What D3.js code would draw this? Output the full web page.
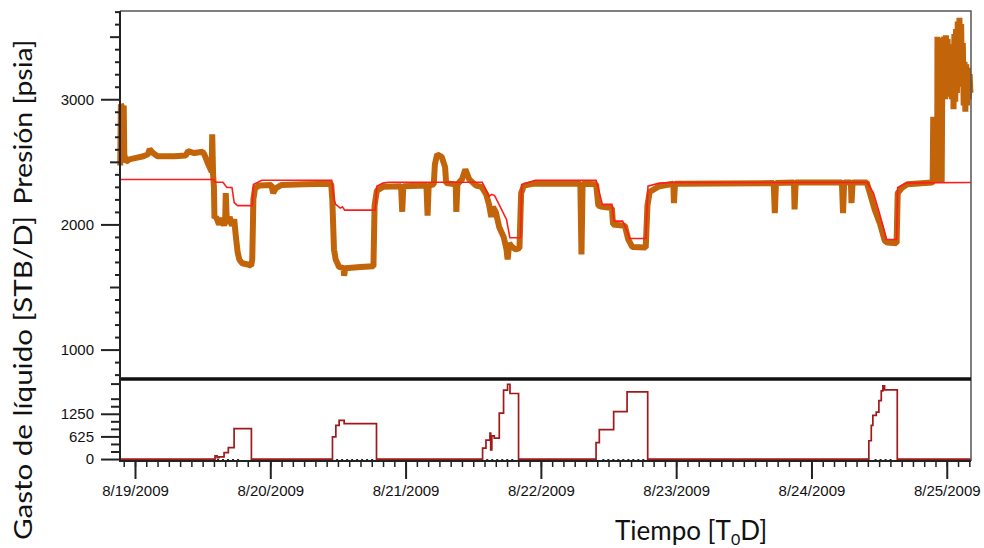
<!DOCTYPE html>
<html>
<head>
<meta charset="utf-8">
<script src="https://cdn.jsdelivr.net/npm/d3@7"></script>
<style>
  body { margin: 0; background: #fff; }
  .tick text { font-family: "Liberation Sans", Arial, sans-serif; font-size: 15px; fill: #111; }
  .ttl { font-family: Lato, "Open Sans", sans-serif; font-size: 25px; fill: #111; }
</style>
</head>
<body>
<div id="graph"></div>
<script>
// hours after 8/19/2009 00:00, measured pressure [psia]
var presHours = [-2.62, -2.5, -2.2, -2.0, -1.9, -1.6, -1.0, 0.0, 1.5, 2.3, 2.6, 3.2, 4.0, 7.0, 9.0, 9.4, 10.5, 12.0,
  12.3, 13.0, 13.6, 13.7, 13.85, 14.0, 14.1, 14.4, 14.9, 15.4, 15.8, 16.0, 16.1, 16.3, 16.8, 17.2, 17.6, 17.9, 18.2, 18.5,
  19.0, 20.0, 20.6, 20.8, 21.0, 21.3, 22.0, 24.2, 24.5, 25.0, 26.0, 30.0, 34.8,
  35.0, 35.3, 35.6, 36.2, 37.0, 37.1, 37.3, 40.0, 42.3, 42.5, 42.9, 44.0, 47.2, 47.4, 47.6, 51.7, 51.9, 52.1, 53.0, 53.2,
  53.6, 54.4, 55.0, 55.2, 56.9, 57.0, 57.2, 58.0, 58.6, 59.3, 60.5, 61.5, 62.3, 62.8, 63.2, 63.5, 64.0, 64.6, 65.4, 65.9,
  66.1, 66.4, 66.9, 67.5, 68.2, 68.5, 69.0, 70.5, 79.0, 79.2, 79.4, 81.8, 82.2, 82.9, 84.6, 84.8, 86.9, 87.5, 88.2, 90.6,
  90.9, 91.3, 93.0, 95.5, 95.6, 95.8, 113.3, 113.5, 113.7, 116.9, 117.0, 117.2, 125.4, 125.6, 125.8, 127.0, 127.1, 127.3,
  129.8, 130.5, 131.2, 132.2, 133.0, 133.4, 135.1, 135.3, 136.0, 137.0, 141.4,
  141.5, 141.6, 141.75, 141.9, 142.05, 142.2, 142.3,
  142.35, 142.5, 142.65, 142.8, 142.95, 143.1, 143.25, 143.4, 143.55, 143.7, 143.85, 144.0, 144.15, 144.3, 144.45, 144.6,
  144.75, 144.9, 145.05, 145.2, 145.35, 145.5, 145.65, 145.8, 145.95, 146.1, 146.25, 146.4, 146.55, 146.7, 146.85, 147.0,
  147.15, 147.3, 147.45, 147.6, 147.75, 147.9, 148.05, 148.2]
var presValues = [2470, 2960, 2930, 2950, 2560, 2500, 2520, 2530, 2545, 2560, 2600, 2570, 2545, 2545, 2550, 2585, 2570, 2580,
  2560, 2480, 2420, 2720, 2400, 2300, 2050, 2060, 2000, 2050, 1990, 2030, 2250, 2010, 2060, 1990, 2040, 1900, 1780, 1720,
  1690, 1680, 1670, 1720, 2200, 2290, 2310, 2315, 2250, 2290, 2315, 2320, 2325,
  2200, 1800, 1720, 1660, 1650, 1590, 1650, 1660, 1665, 2150, 2270, 2300, 2305, 2100, 2305, 2310, 2070, 2310, 2320, 2480,
  2560, 2540, 2460, 2330, 2320, 2100, 2320, 2360, 2440, 2360, 2310, 2300, 2240, 2160, 2060, 2140, 2100, 1980, 1900, 1800,
  1720, 1850, 1820, 1800, 1810, 2250, 2310, 2325, 2325, 1760, 2325, 2320, 2150, 2140, 2130, 2000, 1990, 1880, 1820, 1815,
  2150, 2260, 2305, 2325, 2170, 2325, 2330, 2090, 2330, 2335, 2120, 2335, 2335, 2090, 2335, 2335, 2170, 2335,
  2335, 2230, 2120, 2000, 1870, 1855, 1850, 2250, 2290, 2320, 2335,
  2340, 2860, 2340, 2860, 2340, 2860, 2340,
  3500, 2340, 3470, 2340, 3480, 2340, 3490, 3000, 3500, 3000, 3510, 3020, 3480, 3050, 3400, 3080,
  3420, 3000, 3440, 2920, 3520, 2980, 3560, 3050, 3620, 3100, 3650, 3150, 3600, 3100, 3450, 2950,
  3300, 2900, 3280, 2950, 3250, 3000, 3200, 3050]

// simulated pressure (red)
var simHours = [-2.66, 14.0, 14.2, 15.6, 16.3, 17.2, 17.6, 18.2, 20.8, 21.0, 22.5, 34.9, 35.3, 35.6, 36.4, 36.8, 37.2, 42.6,
  42.9, 44.0, 45.0, 61.6, 62.8, 63.3, 63.8, 65.9, 66.5, 68.4, 68.6, 70.5, 71.0, 81.8, 82.4, 82.9, 84.6, 85.0, 86.5, 87.3,
  87.7, 90.6, 91.0, 93.0, 95.0, 129.9, 131.0, 132.0, 133.3, 135.1, 135.3, 136.9, 148.3]
var simValues = [2359, 2359, 2337, 2337, 2295, 2295, 2175, 2150, 2150, 2319, 2353, 2353, 2200, 2160, 2130, 2140, 2114, 2114,
  2305, 2330, 2337, 2337, 2225, 2240, 2230, 2040, 1894, 1894, 2319, 2345, 2353, 2353, 2250, 2160, 2160, 2026, 2026, 1950,
  1888, 1888, 2305, 2330, 2335, 2335, 2250, 2100, 1880, 1880, 2295, 2332, 2335]

// liquid rate [STB/D], step after
var rateHours = [-2.66, 14.2, 14.56, 14.9, 15.8, 16.56, 17.58, 20.65, 35.03, 35.63, 36.21, 37.1, 42.84,
  61.66, 62.26, 62.97, 63.1, 63.3, 63.73, 64.62, 65.38, 66.09, 66.52, 68.04,
  81.79, 82.37, 84.91, 87.29, 90.95,
  130.18, 130.61, 130.89, 131.49, 131.96, 132.38, 132.67, 132.97, 135.22, 148.3]
var rateValues = [0, 90, 40, 60, 180, 315, 840, 0, 614, 932, 1068, 978, 0,
  299, 524, 715, 250, 640, 580, 1266, 1902, 2065, 1810, 0,
  451, 815, 1312, 1856, 0,
  505, 932, 1204, 1293, 1611, 1883, 2019, 1910, 0, 0]

// second rate series, flat at zero while the well flows (dotted)
var zeroStart = [14.56, 35.68, 62.31, 82.9, 131.19]
var zeroEnd = [18.46, 42.43, 67.64, 90.36, 134.74]

var presTicks = [1000, 2000, 3000]
var rateTicks = [0, 625, 1250]

function draw() {
  var base = new Date(2009, 7, 19)
  function hr(h) { return new Date(base.getTime() + h * 3600e3) }

  var width = 984, height = 548
  var m = { left: 120, right: 971, top: 11, mid: 379, bottom: 461 }

  var svg = d3.select("#graph")
    .append("svg")
    .attr("width", width)
    .attr("height", height)

  var x = d3.scaleTime()
    .domain([hr(-2.66), hr(148.3)])
    .range([m.left, m.right])

  var yP = d3.scaleLinear()
    .domain([781, 3705])
    .range([m.mid - 2, m.top])

  var yQ = d3.scaleLinear()
    .domain([-54, 2155])
    .range([m.bottom, m.mid + 2])

  // top panel: measured pressure, thick orange
  var presLine = d3.line()
    .x(function (d, i) { return x(hr(presHours[i])) })
    .y(function (d) { return yP(d) })
  svg.append("path")
    .attr("d", presLine(presValues))
    .attr("fill", "none")
    .attr("stroke", "#c2640a")
    .attr("stroke-width", 6)
    .attr("stroke-linejoin", "bevel")

  var simLine = d3.line()
    .x(function (d, i) { return x(hr(simHours[i])) })
    .y(function (d) { return yP(d) })
  svg.append("path")
    .attr("d", simLine(simValues))
    .attr("fill", "none")
    .attr("stroke", "#ff1c1c")
    .attr("stroke-width", 1.6)

  // bottom panel: rate
  zeroStart.forEach(function (s, i) {
    svg.append("line")
      .attr("x1", x(hr(s))).attr("x2", x(hr(zeroEnd[i])))
      .attr("y1", yQ(0) + 0.5).attr("y2", yQ(0) + 0.5)
      .attr("stroke", "#222")
      .attr("stroke-width", 1.2)
      .attr("stroke-dasharray", "2,3")
  })

  var rateLine = d3.line()
    .curve(d3.curveStepAfter)
    .x(function (d, i) { return x(hr(rateHours[i])) })
    .y(function (d) { return yQ(d) })
  svg.append("path")
    .attr("d", rateLine(rateValues))
    .attr("fill", "none")
    .attr("stroke", "#a11a1a")
    .attr("stroke-width", 1.7)

  // frame
  svg.append("path")
    .attr("d", "M" + m.left + "," + m.top + "H" + m.right + "V" + m.bottom)
    .attr("fill", "none")
    .attr("stroke", "#555")
    .attr("stroke-width", 1.5)
  svg.append("line")
    .attr("x1", m.left).attr("x2", m.right).attr("y1", m.mid).attr("y2", m.mid)
    .attr("stroke", "#111").attr("stroke-width", 3.5)
  svg.append("line")
    .attr("x1", m.left).attr("x2", m.left).attr("y1", m.top).attr("y2", m.bottom + 1)
    .attr("stroke", "#222").attr("stroke-width", 2)
  svg.append("line")
    .attr("x1", m.left).attr("x2", m.right).attr("y1", m.bottom).attr("y2", m.bottom)
    .attr("stroke", "#222").attr("stroke-width", 2)

  // y axes, ticks outside
  function axisY(scale, values, size, labels) {
    var g = svg.append("g")
      .attr("transform", "translate(" + (m.left - 1) + ",0)")
      .call(d3.axisLeft(scale).tickValues(values).tickSize(size).tickPadding(7)
        .tickFormat(labels ? d3.format("d") : ""))
    g.select(".domain").remove()
    g.selectAll("line").attr("stroke", "#222").attr("stroke-width", 2)
  }
  axisY(yP, d3.range(800, 3701, 100).filter(function (v) { return v % 500 != 0 }), 4, false)
  axisY(yP, [1500, 2500, 3500], 9, false)
  axisY(yP, presTicks, 18, true)
  axisY(yQ, d3.range(1, 11).map(function (k) { return k * 625 / 3 }).filter(function (v) { return v % 625 > 1 && v < 2150 }), 8, false)
  axisY(yQ, rateTicks, 18, true)

  // x axis: 2 hour minors, day majors
  var gx = svg.append("g")
    .attr("transform", "translate(0," + (m.bottom + 1) + ")")
    .call(d3.axisBottom(x).ticks(d3.timeHour.every(2)).tickSize(5).tickFormat(""))
  gx.select(".domain").remove()
  gx.selectAll("line").attr("stroke", "#222").attr("stroke-width", 1.5)
  var gx2 = svg.append("g")
    .attr("transform", "translate(0," + (m.bottom + 1) + ")")
    .call(d3.axisBottom(x).ticks(d3.timeDay.every(1)).tickSize(17).tickPadding(6)
      .tickFormat(d3.timeFormat("%-m/%-d/%Y")))
  gx2.select(".domain").remove()
  gx2.selectAll("line").attr("stroke", "#222").attr("stroke-width", 2)

  // titles
  svg.append("text")
    .attr("class", "ttl")
    .attr("transform", "translate(32,122) rotate(-90)")
    .attr("text-anchor", "middle")
    .attr("textLength", 165)
    .attr("lengthAdjust", "spacingAndGlyphs")
    .text("Presión [psia]")
  svg.append("text")
    .attr("class", "ttl")
    .attr("transform", "translate(32,378) rotate(-90)")
    .attr("text-anchor", "middle")
    .attr("textLength", 324)
    .attr("lengthAdjust", "spacingAndGlyphs")
    .text("Gasto de líquido [STB/D]")
  var tt = svg.append("text")
    .attr("class", "ttl")
    .style("font-size", "26px")
    .attr("x", 615).attr("y", 540)
  tt.append("tspan").text("Tiempo [T")
  tt.append("tspan").attr("font-size", "16px").attr("dy", 5).text("0")
  tt.append("tspan").attr("dy", -5).text("D]")
}

draw()
</script>
</body>
</html>
